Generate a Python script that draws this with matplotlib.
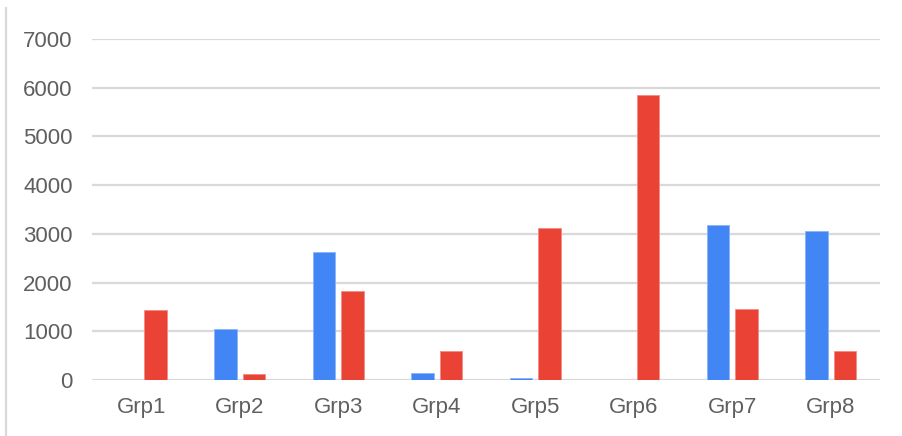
import matplotlib.pyplot as plt
import numpy as np
from matplotlib.lines import Line2D

groups = ["Grp1", "Grp2", "Grp3", "Grp4", "Grp5", "Grp6", "Grp7", "Grp8"]
blue_values = [0, 1050, 2620, 140, 40, 0, 3190, 3060]
red_values = [1430, 120, 1830, 590, 3130, 5840, 1460, 590]
y_ticks = [0, 1000, 2000, 3000, 4000, 5000, 6000, 7000]

BLUE = "#4285F4"
RED = "#EA4335"
GRID = "#d9d9d9"
TEXT = "#5f5f5f"

plt.rcParams["font.family"] = ["Liberation Sans", "DejaVu Sans"]

fig = plt.figure(figsize=(9.02, 4.36), dpi=100)
ax = fig.add_axes([0.102, 0.1284, 0.8736, 0.7822])

x = np.arange(len(groups))
width = 0.23
offset = 0.145
ax.bar(x - offset, blue_values, width, color=BLUE, edgecolor="#8ab4f8", linewidth=0.6, zorder=3)
ax.bar(x + offset, red_values, width, color=RED, edgecolor="#f28b82", linewidth=0.6, zorder=3)

ax.set_xlim(-0.5, len(groups) - 0.5)
ax.set_ylim(0, 7000)
ax.set_yticks(y_ticks)
ax.set_yticklabels([str(v) for v in y_ticks])
ax.set_xticks(x)
ax.set_xticklabels(groups)

ax.yaxis.grid(True, color=GRID, linewidth=1.6, zorder=0)
ax.set_axisbelow(True)
for side in ["top", "right", "left", "bottom"]:
    ax.spines[side].set_visible(False)
ax.axhline(0, color=GRID, linewidth=1.8, zorder=2)

ax.tick_params(axis="y", length=0, pad=14, labelsize=16, labelcolor=TEXT)
ax.tick_params(axis="x", length=0, pad=12, labelsize=16, labelcolor=TEXT)

# thin frame line along the left edge
fig.add_artist(Line2D([6 / 902, 6 / 902], [0, 1 - 8 / 436], transform=fig.transFigure,
                      color=GRID, linewidth=1.6))

plt.savefig("out.png", dpi=100)
plt.close()
